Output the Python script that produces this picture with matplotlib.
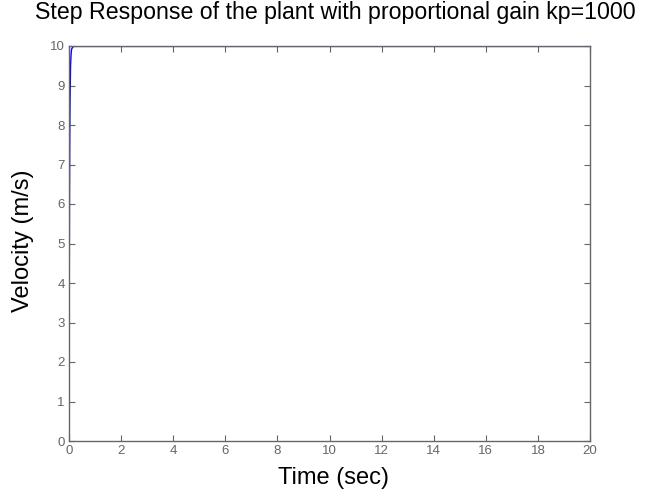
import matplotlib
matplotlib.use("Agg")
import matplotlib.pyplot as plt

# step response (fast rise near t=0)
time_sec = [0, 0.005, 0.01, 0.02, 0.03, 0.04, 0.06, 0.08, 0.1, 0.15, 0.2, 1, 5, 10, 20]
velocity = [0, 2.2, 3.9, 6.3, 7.8, 8.6, 9.5, 9.8, 9.92, 9.98, 9.99, 9.99, 9.99, 9.99, 9.99]

x_ticks = [0, 2, 4, 6, 8, 10, 12, 14, 16, 18, 20]
y_ticks = [0, 1, 2, 3, 4, 5, 6, 7, 8, 9, 10]

plt.rcParams['font.family'] = ['Liberation Sans', 'DejaVu Sans']
grey = '#666666'

fig = plt.figure(figsize=(6.55, 4.93), dpi=100)
ax = fig.add_axes([69 / 655, 1 - 441 / 493, (590 - 69) / 655, (441 - 46) / 493])

ax.plot(time_sec, velocity, color='#0000ff', linewidth=1.0)

ax.set_xlim(0, 20)
ax.set_ylim(0, 10)
ax.set_xticks(x_ticks)
ax.set_yticks(y_ticks)
ax.tick_params(direction='in', top=True, right=True, length=4, width=0.8,
               colors=grey, labelsize=9.5, pad=3)
for s in ax.spines.values():
    s.set_color(grey)
    s.set_linewidth(1.0)

fig.text(333 / 655, 1 - 478 / 493, "Time (sec)", ha='center', va='center', fontsize=17)
fig.text(23 / 655, 1 - 241 / 493, "Velocity (m/s)", ha='center', va='center',
         rotation=90, fontsize=17)
fig.text(335 / 655, 1 - 13 / 493, "Step Response of the plant with proportional gain kp=1000",
         ha='center', va='center', fontsize=16.7)

fig.savefig("out.png", dpi=100)
